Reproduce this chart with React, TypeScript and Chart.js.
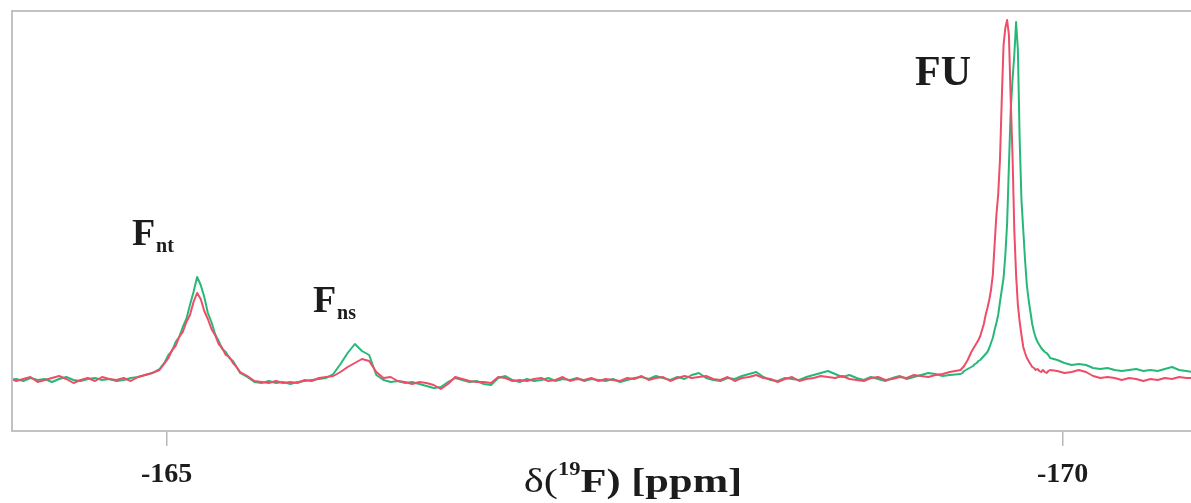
import React, { useEffect, useRef } from "react";
import { Chart, registerables } from "chart.js";

Chart.register(...registerables);

// Chemical shift sampling positions (ppm)
const ppm: number[] = [
  -164.12, -164.16, -164.2, -164.24, -164.28, -164.32, -164.36, -164.4, -164.44, -164.48,
  -164.52, -164.56, -164.6, -164.64, -164.68, -164.72, -164.76, -164.8, -164.84, -164.88,
  -164.92, -164.96,
  -164.99, -165.01, -165.03, -165.05, -165.07, -165.09, -165.11, -165.13, -165.15, -165.17,
  -165.19, -165.21, -165.23, -165.25, -165.27, -165.29, -165.31, -165.33, -165.35, -165.37,
  -165.39, -165.41,
  -165.45, -165.49, -165.53, -165.57, -165.61, -165.65, -165.69, -165.73, -165.77, -165.81,
  -165.85, -165.89, -165.93, -165.97, -166.01, -166.05, -166.09, -166.13, -166.17, -166.21,
  -166.25, -166.29, -166.33, -166.37, -166.41, -166.45, -166.49, -166.53, -166.57, -166.61,
  -166.65, -166.69, -166.73, -166.77, -166.81, -166.85, -166.89, -166.93, -166.97, -167.01,
  -167.05, -167.09, -167.13, -167.17, -167.21, -167.25, -167.29, -167.33, -167.37, -167.41,
  -167.45, -167.49, -167.53, -167.57, -167.61, -167.65, -167.69, -167.73, -167.77, -167.81,
  -167.85, -167.89, -167.93, -167.97, -168.01, -168.05, -168.09, -168.13, -168.17, -168.21,
  -168.25, -168.29, -168.33, -168.37, -168.41, -168.45, -168.49, -168.53, -168.57, -168.61,
  -168.65, -168.69, -168.73, -168.77, -168.81, -168.85, -168.89, -168.93, -168.97, -169.01,
  -169.05, -169.09, -169.13, -169.17, -169.21, -169.25, -169.29, -169.33, -169.37,
  -169.43, -169.44, -169.45, -169.46, -169.47, -169.48, -169.49, -169.5, -169.51, -169.52,
  -169.53, -169.54, -169.55, -169.56, -169.57, -169.58, -169.59, -169.6, -169.61, -169.62,
  -169.63, -169.64, -169.65, -169.66, -169.67, -169.68, -169.69, -169.7, -169.71, -169.72,
  -169.73, -169.74, -169.75, -169.76, -169.77, -169.78, -169.79, -169.8, -169.81, -169.82,
  -169.83, -169.84, -169.85, -169.86, -169.87, -169.88, -169.89, -169.9, -169.91, -169.92,
  -169.93,
  -169.97, -170.01, -170.05, -170.09, -170.13, -170.17, -170.21, -170.25, -170.29, -170.33,
  -170.37, -170.41, -170.45, -170.49, -170.53, -170.57, -170.61, -170.65, -170.69, -170.73,
];

// Red spectrum intensity (arbitrary units, baseline = 0)
const redIntensity: number[] = [
  2, -1, 1, 3, -2, 0, 2, 4, 1, -3,
  0, 2, -1, 3, 1, 0, 2, -1, 3, 5,
  7, 10,
  17, 22, 30, 34, 43, 48, 58, 65, 78, 87,
  81, 69, 61, 51, 45, 36, 32, 25, 23, 17,
  13, 8,
  4, -1, -2, -3, -1, -3, -2, -3, 0, -1,
  2, 3, 4, 8, 13, 17, 21, 19, 8, 2,
  3, -1, -2, -4, -2, -3, -5, -9, -4, 3,
  1, -1, -2, -2, -3, 3, 2, -1, 0, -1,
  1, 2, -1, 0, 3, -1, 1, 0, 2, -1,
  1, 0, -1, 2, 1, 4, 0, 2, 3, -1,
  2, 4, 2, 3, 4, 1, 0, 3, -1, 2,
  3, 5, 2, 1, -2, 1, 3, -1, 1, 2,
  4, 3, 2, 4, 1, 0, -1, 2, 3, 0,
  1, 3, 2, 5, 4, 3, 5, 6, 8,
  10, 12, 14, 17, 20, 24, 28, 31, 34, 37,
  40, 44, 50, 56, 65, 72, 80, 90, 105, 135,
  165, 185, 220, 280, 335, 352, 360, 345, 280, 225,
  150, 105, 75, 58, 45, 33, 27, 22, 19, 16,
  13, 12, 10, 11, 9, 8, 10, 8, 7, 9,
  10,
  9, 7, 8, 10, 8, 4, 2, 3, 2, 0,
  2, 1, -1, 1, 0, 2, 1, 3, 2, 2,
];

// Green spectrum intensity (arbitrary units, baseline = 0)
const greenIntensity: number[] = [
  0, 1, -1, 2, 0, 1, -2, 1, 3, 0,
  -1, 1, 2, 0, 1, -1, 0, 2, 3, 5,
  7, 11,
  18, 25, 29, 38, 43, 53, 61, 75, 88, 103,
  95, 83, 67, 58, 46, 39, 31, 28, 22, 19,
  13, 7,
  3, -2, -3, -1, -3, -2, -4, -2, -1, 0,
  1, 2, 6, 16, 27, 36, 29, 25, 5, 0,
  -2, -1, -3, -2, -4, -6, -8, -7, -2, 2,
  0, -2, -1, -4, -5, 2, 4, 0, -2, 1,
  -1, 0, 2, -1, 1, 0, 2, -1, 1, 0,
  -1, 1, -2, 0, 2, 3, 1, 4, 2, 0,
  3, 1, 5, 7, 2, 0, -1, 2, 1, 4,
  6, 8, 3, 0, -1, 2, 1, 0, 3, 5,
  7, 9, 6, 3, 5, 2, 0, 3, 1, -1,
  2, 4, 1, 3, 5, 7, 6, 4, 5,
  6, 7, 9, 10, 11, 12, 13, 14, 16, 17,
  19, 20, 22, 24, 26, 28, 32, 37, 42, 50,
  57, 65, 78, 90, 102, 125, 157, 215, 270, 300,
  325, 358, 330, 240, 180, 150, 120, 95, 80, 68,
  56, 48, 42, 38, 35, 32, 30, 28, 27, 25,
  22,
  20, 17, 15, 16, 15, 12, 11, 12, 10, 9,
  10, 11, 9, 10, 9, 11, 13, 10, 9, 8,
];

const tickValues: number[] = [-165, -170];

const peakLabels = [
  { main: "F", sub: "nt", ppm: -164.806, height: 135 },
  { main: "F", sub: "ns", ppm: -165.816, height: 68 },
  { main: "FU", sub: "", ppm: -169.176, height: 295 },
];

const SERIF = "'Liberation Serif', 'Times New Roman', serif";
const FRAME = "#c2c2c2";

const decorPlugin = {
  id: "decor",
  afterDraw(chart: any) {
    const { ctx, chartArea: a, scales } = chart;
    const xs = scales.x;
    const ys = scales.y;
    ctx.save();
    // frame (left, top, bottom)
    ctx.strokeStyle = FRAME;
    ctx.lineWidth = 2;
    ctx.beginPath();
    ctx.moveTo(a.right + 2, a.bottom);
    ctx.lineTo(a.left, a.bottom);
    ctx.lineTo(a.left, a.top);
    ctx.lineTo(a.right + 2, a.top);
    ctx.stroke();

    // peak labels
    ctx.fillStyle = "#1c1c1c";
    ctx.textBaseline = "alphabetic";
    ctx.textAlign = "left";
    for (const p of peakLabels) {
      const px = xs.getPixelForValue(p.ppm);
      const py = ys.getPixelForValue(p.height);
      const big = p.sub ? 38 : 42;
      ctx.font = `bold ${big}px ${SERIF}`;
      ctx.fillText(p.main, px, py);
      if (p.sub) {
        const w = ctx.measureText(p.main).width;
        ctx.font = `bold 20px ${SERIF}`;
        ctx.fillText(p.sub, px + w + 1, py + 7);
      }
    }

    // axis title: δ(19F) [ppm]
    const parts = [
      { t: "δ(", font: `34px ${SERIF}`, dy: 0 },
      { t: "19", font: `bold 18px ${SERIF}`, dy: -17 },
      { t: "F) [ppm]", font: `bold 34px ${SERIF}`, dy: 0 },
    ];
    let total = 0;
    for (const part of parts) {
      ctx.font = part.font;
      total += ctx.measureText(part.t).width;
    }
    const sx = 1.25;
    const cx = 633;
    const baseY = 492;
    ctx.translate(cx - (total * sx) / 2, baseY);
    ctx.scale(sx, 1);
    let x = 0;
    for (const part of parts) {
      ctx.font = part.font;
      ctx.fillText(part.t, x, part.dy);
      x += ctx.measureText(part.t).width;
    }
    ctx.restore();
  },
};

export default function App() {
  const canvasRef = useRef<HTMLCanvasElement | null>(null);

  useEffect(() => {
    const canvas = canvasRef.current;
    if (!canvas) return;
    const redData = ppm.map((p, i) => ({ x: p, y: redIntensity[i] }));
    const greenData = ppm.map((p, i) => ({ x: p, y: greenIntensity[i] }));
    const chart = new Chart(canvas, {
      type: "line",
      data: {
        datasets: [
          {
            label: "red",
            data: redData,
            borderColor: "#ef4c68",
            borderWidth: 2,
            pointRadius: 0,
            tension: 0,
            borderJoinStyle: "round",
          },
          {
            label: "green",
            data: greenData,
            borderColor: "#27b878",
            borderWidth: 2,
            pointRadius: 0,
            tension: 0,
            borderJoinStyle: "round",
          },
        ],
      },
      options: {
        animation: false,
        responsive: false,
        maintainAspectRatio: false,
        layout: { padding: { left: 12, top: 11, right: 0, bottom: 0 } },
        plugins: {
          legend: { display: false },
          tooltip: { enabled: false },
        },
        scales: {
          x: {
            type: "linear",
            reverse: true,
            min: -170.716,
            max: -164.137,
            afterBuildTicks: (scale: any) => {
              scale.ticks = tickValues.map((v) => ({ value: v }));
            },
            afterFit: (scale: any) => {
              scale.height = 72;
            },
            border: { display: false },
            grid: {
              drawOnChartArea: false,
              drawTicks: true,
              tickLength: 15,
              color: "#b8b8b8",
              lineWidth: 1.5,
            },
            ticks: {
              autoSkip: false,
              maxRotation: 0,
              padding: 12,
              color: "#1c1c1c",
              font: { family: SERIF, size: 28, weight: "bold" },
              callback: (v: any) => String(v),
            },
          },
          y: {
            display: false,
            min: -51,
            max: 369,
          },
        },
      },
      plugins: [decorPlugin],
    } as any);
    return () => chart.destroy();
  }, []);

  return (
    <div style={{ position: "fixed", left: 0, top: 0, width: 1191, height: 503, background: "#fff" }}>
      <canvas ref={canvasRef} width={1191} height={503} style={{ display: "block" }} />
    </div>
  );
}
